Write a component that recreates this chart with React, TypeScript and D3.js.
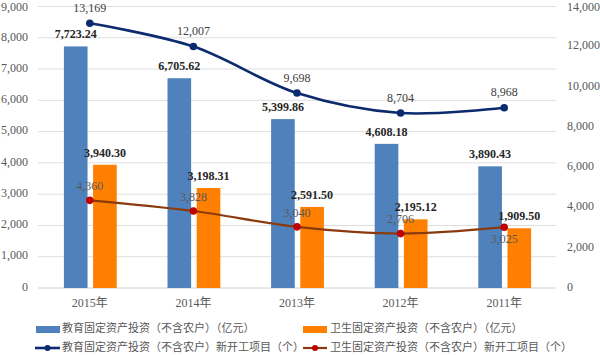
import React from 'react';
import * as d3 from 'd3';

const categories = ['2015年', '2014年', '2013年', '2012年', '2011年'];
const eduInvest = [7723.24, 6705.62, 5399.86, 4608.18, 3890.43];
const healthInvest = [3940.3, 3198.31, 2591.5, 2195.12, 1909.5];
const eduProjects = [13169, 12007, 9698, 8704, 8968];
const healthProjects = [4360, 3828, 3040, 2706, 3025];
const leftTicks = [0, 1000, 2000, 3000, 4000, 5000, 6000, 7000, 8000, 9000];
const rightTicks = [0, 2000, 4000, 6000, 8000, 10000, 12000, 14000];
const seriesNames = [
  '教育固定资产投资（不含农户）（亿元）',
  '卫生固定资产投资（不含农户）（亿元）',
  '教育固定资产投资（不含农户）新开工项目（个）',
  '卫生固定资产投资（不含农户）新开工项目（个）',
];
const healthLabelSide = [-1, -1, -1, -1, 1];

const W = 600;
const H = 355;
const C_BLUE = '#4F81BD';
const C_ORANGE = '#FF8000';
const C_NAVY = '#0C2A6E';
const C_BROWN = '#8B3A0E';
const C_RED = '#C00000';
const C_TEXT = '#595959';
const FONT = "'Liberation Serif', 'Times New Roman', 'Noto Sans CJK SC', serif";
const CJK = "'Noto Sans CJK SC', 'Liberation Serif', sans-serif";

export default function App() {
  const x0 = d3.scaleBand<string>().domain(categories).range([38, 556]).padding(0);
  const bw = x0.bandwidth();
  const x1 = d3
    .scaleBand<string>()
    .domain(['edu', 'health'])
    .range([bw * 0.25, bw * 0.76])
    .paddingInner(0.19);
  const yL = d3.scaleLinear().domain([0, 9000]).range([288, 6.5]);
  const yR = d3.scaleLinear().domain([0, 14000]).range([288, 6.5]);
  const cx = (c: string) => (x0(c) as number) + bw / 2;

  const lineGen = (vals: number[]) =>
    d3
      .line<number>()
      .x((_, i) => cx(categories[i]))
      .y((v) => yR(v))
      .curve(d3.curveCatmullRom.alpha(0.5))(vals) as string;

  const fmt2 = d3.format(',.2f');
  const fmt0 = d3.format(',');
  const clampY = (y: number) => Math.max(y, 8);

  return (
    <div style={{ position: 'fixed', left: 0, top: 0 }}>
      <svg width={W} height={H} style={{ display: 'block', background: '#fff' }}>
        {leftTicks.map((t) => (
          <line key={'g' + t} x1={38} x2={556} y1={yL(t)} y2={yL(t)} stroke={t === 0 ? '#d0d0d0' : '#dedede'} strokeWidth={1} />
        ))}
        {leftTicks.map((t) => (
          <text key={'l' + t} x={28} y={clampY(yL(t))} textAnchor="end" dominantBaseline="middle" fontFamily={FONT} fontSize={12} fill={C_TEXT}>
            {fmt0(t)}
          </text>
        ))}
        {rightTicks.map((t) => (
          <text key={'r' + t} x={567} y={clampY(yR(t))} textAnchor="start" dominantBaseline="middle" fontFamily={FONT} fontSize={12} fill={C_TEXT}>
            {fmt0(t)}
          </text>
        ))}
        {categories.map((c) => (
          <text key={'x' + c} x={cx(c)} y={304} textAnchor="middle" dominantBaseline="middle" fontFamily={FONT} fontSize={12} fill={C_TEXT}>
            {c}
          </text>
        ))}
        {categories.map((c, i) => (
          <g key={'b' + c}>
            <rect x={(x0(c) as number) + (x1('edu') as number)} y={yL(eduInvest[i])} width={x1.bandwidth()} height={yL(0) - yL(eduInvest[i])} fill={C_BLUE} />
            <rect x={(x0(c) as number) + (x1('health') as number)} y={yL(healthInvest[i])} width={x1.bandwidth()} height={yL(0) - yL(healthInvest[i])} fill={C_ORANGE} />
          </g>
        ))}
        <path d={lineGen(healthProjects)} fill="none" stroke={C_BROWN} strokeWidth={2.2} />
        <path d={lineGen(eduProjects)} fill="none" stroke={C_NAVY} strokeWidth={2.6} />
        {categories.map((c, i) => (
          <g key={'m' + c}>
            <circle cx={cx(c)} cy={yR(eduProjects[i])} r={3.8} fill={C_NAVY} />
            <circle cx={cx(c)} cy={yR(healthProjects[i])} r={3.8} fill={C_RED} />
          </g>
        ))}
        {categories.map((c, i) => (
          <g key={'ll' + c}>
            <text x={cx(c)} y={clampY(yR(eduProjects[i]) - 14)} textAnchor="middle" dominantBaseline="middle" fontFamily={FONT} fontSize={12} fill="#404040">
              {fmt0(eduProjects[i])}
            </text>
            <text x={cx(c)} y={yR(healthProjects[i]) + healthLabelSide[i] * 13} textAnchor="middle" dominantBaseline="middle" fontFamily={FONT} fontSize={12} fill={C_TEXT}>
              {fmt0(healthProjects[i])}
            </text>
          </g>
        ))}
        {categories.map((c, i) => (
          <g key={'bl' + c}>
            <text x={(x0(c) as number) + (x1('edu') as number) + x1.bandwidth() / 2} y={yL(eduInvest[i]) - 11} textAnchor="middle" dominantBaseline="middle" fontFamily={FONT} fontSize={12} fontWeight="bold" fill="#262626">
              {fmt2(eduInvest[i])}
            </text>
            <text x={(x0(c) as number) + (x1('health') as number) + x1.bandwidth() / 2} y={yL(healthInvest[i]) - 11} textAnchor="middle" dominantBaseline="middle" fontFamily={FONT} fontSize={12} fontWeight="bold" fill="#262626">
              {fmt2(healthInvest[i])}
            </text>
          </g>
        ))}
        <g>
          <rect x={36} y={326} width={24} height={7} fill={C_BLUE} />
          <text x={62} y={329.5} dominantBaseline="middle" fontFamily={CJK} fontSize={11} fill={C_TEXT}>{seriesNames[0]}</text>
          <rect x={303} y={326} width={24} height={7} fill={C_ORANGE} />
          <text x={330} y={329.5} dominantBaseline="middle" fontFamily={CJK} fontSize={11} fill={C_TEXT}>{seriesNames[1]}</text>
          <line x1={35} x2={60} y1={348} y2={348} stroke={C_NAVY} strokeWidth={2.6} />
          <circle cx={47.5} cy={348} r={3} fill={C_NAVY} />
          <text x={62} y={348} dominantBaseline="middle" fontFamily={CJK} fontSize={11} fill={C_TEXT}>{seriesNames[2]}</text>
          <line x1={303} x2={327} y1={348} y2={348} stroke={C_BROWN} strokeWidth={2.2} />
          <circle cx={315} cy={348} r={3} fill={C_RED} />
          <text x={330} y={348} dominantBaseline="middle" fontFamily={CJK} fontSize={11} fill={C_TEXT}>{seriesNames[3]}</text>
        </g>
      </svg>
    </div>
  );
}
